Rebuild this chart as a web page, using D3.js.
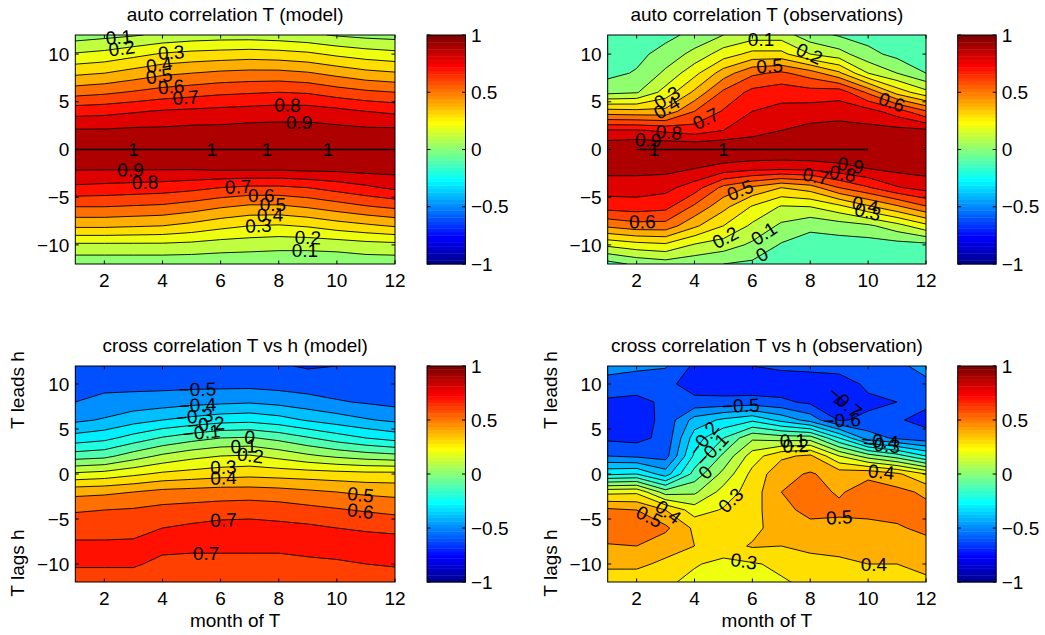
<!DOCTYPE html>
<html>
<head>
<meta charset="utf-8">
<script src="https://cdn.jsdelivr.net/npm/d3@7"></script>
<style>
  body { margin: 0; background: #fff; }
  svg { display: block; }
  text { font-family: "Liberation Sans", Arial, Helvetica, sans-serif; fill: #000; }
</style>
</head>
<body>
<script>
const months = [1, 2, 3, 4, 5, 6, 7, 8, 9, 10, 11, 12];
const lags = [12, 10, 8, 6, 4, 2, 0, -2, -4, -6, -8, -10, -12];
const levels = d3.range(-10, 11).map(i => i / 10);
const lagTicks = [-10, -5, 0, 5, 10];
const monthTicks = [2, 4, 6, 8, 10, 12];
const barTicks = [-1, -0.5, 0, 0.5, 1];

// one inner array per month (1..12), values at lags 12 ... -12
const autoModel = [
  [0.05, 0.21, 0.38, 0.56, 0.76, 0.91, 1, 0.91, 0.78, 0.60, 0.42, 0.18, 0.03],
  [0.07, 0.23, 0.40, 0.58, 0.77, 0.91, 1, 0.91, 0.77, 0.60, 0.42, 0.18, 0.03],
  [0.09, 0.27, 0.44, 0.61, 0.79, 0.92, 1, 0.91, 0.76, 0.59, 0.41, 0.18, 0.03],
  [0.12, 0.31, 0.48, 0.64, 0.81, 0.92, 1, 0.91, 0.75, 0.58, 0.40, 0.18, 0.03],
  [0.14, 0.33, 0.50, 0.66, 0.82, 0.93, 1, 0.91, 0.73, 0.55, 0.37, 0.17, 0.03],
  [0.15, 0.34, 0.52, 0.68, 0.83, 0.93, 1, 0.92, 0.70, 0.51, 0.33, 0.15, 0.03],
  [0.15, 0.35, 0.53, 0.69, 0.84, 0.94, 1, 0.92, 0.68, 0.48, 0.30, 0.14, 0.03],
  [0.14, 0.34, 0.53, 0.70, 0.85, 0.94, 1, 0.92, 0.68, 0.48, 0.29, 0.13, 0.03],
  [0.12, 0.32, 0.51, 0.69, 0.85, 0.94, 1, 0.93, 0.70, 0.51, 0.31, 0.13, 0.03],
  [0.09, 0.28, 0.47, 0.65, 0.83, 0.93, 1, 0.93, 0.74, 0.55, 0.35, 0.14, 0.03],
  [0.07, 0.25, 0.43, 0.62, 0.80, 0.92, 1, 0.94, 0.78, 0.59, 0.38, 0.16, 0.04],
  [0.06, 0.23, 0.41, 0.60, 0.78, 0.92, 1, 0.94, 0.82, 0.62, 0.41, 0.17, 0.04]
];
const autoObs = [
  [-0.06, -0.05, -0.03, 0.07, 0.44, 0.81, 0.98, 0.93, 0.85, 0.74, 0.52, 0.22, -0.04],
  [-0.05, -0.03, 0.01, 0.09, 0.43, 0.81, 1, 0.93, 0.85, 0.75, 0.56, 0.26, 0.02],
  [-0.03, 0.04, 0.12, 0.24, 0.43, 0.78, 1, 0.93, 0.83, 0.73, 0.56, 0.28, 0.05],
  [0.03, 0.13, 0.27, 0.42, 0.60, 0.75, 1, 0.90, 0.75, 0.58, 0.42, 0.19, 0.03],
  [0.10, 0.25, 0.45, 0.62, 0.71, 0.80, 1, 0.86, 0.57, 0.43, 0.30, 0.15, 0.00],
  [0.15, 0.33, 0.58, 0.73, 0.80, 0.85, 1, 0.83, 0.48, 0.29, 0.18, 0.08, -0.02],
  [0.15, 0.33, 0.62, 0.76, 0.83, 0.90, 1, 0.82, 0.40, 0.19, 0.08, -0.01, -0.05],
  [0.04, 0.20, 0.55, 0.74, 0.85, 0.93, 1, 0.83, 0.45, 0.20, 0.02, -0.04, -0.03],
  [-0.01, 0.14, 0.42, 0.76, 0.85, 0.95, 1, 0.86, 0.60, 0.27, 0.05, -0.05, -0.06],
  [-0.04, 0.03, 0.20, 0.58, 0.84, 0.93, 1, 0.90, 0.69, 0.38, 0.08, -0.05, -0.06],
  [-0.06, -0.03, 0.10, 0.36, 0.75, 0.93, 0.99, 0.93, 0.79, 0.48, 0.16, -0.04, -0.06],
  [-0.06, -0.05, 0.00, 0.23, 0.61, 0.92, 0.99, 0.94, 0.84, 0.59, 0.27, -0.03, -0.06]
];
const crossModel = [
  [-0.57, -0.54, -0.50, -0.42, -0.26, -0.05, 0.22, 0.47, 0.59, 0.66, 0.72, 0.71, 0.66],
  [-0.57, -0.53, -0.47, -0.39, -0.23, -0.03, 0.24, 0.48, 0.60, 0.66, 0.72, 0.71, 0.66],
  [-0.57, -0.53, -0.46, -0.34, -0.16, 0.05, 0.28, 0.50, 0.61, 0.67, 0.72, 0.71, 0.66],
  [-0.57, -0.53, -0.45, -0.30, -0.09, 0.12, 0.32, 0.53, 0.63, 0.70, 0.72, 0.68, 0.64],
  [-0.57, -0.53, -0.43, -0.27, -0.04, 0.17, 0.34, 0.54, 0.64, 0.72, 0.72, 0.67, 0.63],
  [-0.57, -0.53, -0.42, -0.24, 0.00, 0.20, 0.36, 0.55, 0.65, 0.74, 0.72, 0.67, 0.63],
  [-0.58, -0.53, -0.41, -0.23, 0.01, 0.21, 0.37, 0.55, 0.66, 0.74, 0.72, 0.67, 0.63],
  [-0.59, -0.54, -0.43, -0.26, -0.03, 0.17, 0.36, 0.54, 0.65, 0.73, 0.72, 0.67, 0.63],
  [-0.61, -0.55, -0.46, -0.31, -0.09, 0.12, 0.35, 0.52, 0.63, 0.72, 0.73, 0.68, 0.64],
  [-0.60, -0.56, -0.49, -0.35, -0.15, 0.08, 0.34, 0.50, 0.61, 0.70, 0.73, 0.69, 0.64],
  [-0.60, -0.57, -0.51, -0.39, -0.20, 0.05, 0.33, 0.48, 0.59, 0.69, 0.74, 0.70, 0.65],
  [-0.60, -0.58, -0.53, -0.42, -0.24, 0.03, 0.33, 0.47, 0.57, 0.68, 0.74, 0.71, 0.65]
];
const crossObs = [
  [-0.47, -0.53, -0.62, -0.65, -0.62, -0.50, -0.22, 0.27, 0.52, 0.57, 0.49, 0.42, 0.35],
  [-0.48, -0.55, -0.63, -0.65, -0.63, -0.52, -0.20, 0.28, 0.50, 0.57, 0.50, 0.42, 0.35],
  [-0.49, -0.57, -0.58, -0.57, -0.57, -0.54, -0.35, 0.05, 0.40, 0.52, 0.44, 0.38, 0.32],
  [-0.62, -0.65, -0.57, -0.36, -0.25, -0.18, -0.06, 0.08, 0.25, 0.38, 0.40, 0.31, 0.27],
  [-0.61, -0.66, -0.57, -0.28, -0.10, 0.02, 0.13, 0.24, 0.31, 0.33, 0.36, 0.27, 0.24],
  [-0.60, -0.67, -0.56, -0.22, 0.08, 0.25, 0.33, 0.35, 0.36, 0.37, 0.41, 0.29, 0.26],
  [-0.58, -0.66, -0.58, -0.33, 0.05, 0.38, 0.47, 0.50, 0.48, 0.45, 0.40, 0.32, 0.29],
  [-0.58, -0.64, -0.62, -0.44, 0.05, 0.42, 0.51, 0.53, 0.52, 0.48, 0.42, 0.37, 0.32],
  [-0.56, -0.65, -0.72, -0.61, -0.20, 0.20, 0.46, 0.49, 0.52, 0.47, 0.43, 0.38, 0.34],
  [-0.55, -0.58, -0.62, -0.58, -0.45, 0.05, 0.48, 0.54, 0.52, 0.48, 0.44, 0.40, 0.36],
  [-0.52, -0.58, -0.60, -0.59, -0.52, -0.05, 0.42, 0.53, 0.53, 0.49, 0.44, 0.40, 0.36],
  [-0.47, -0.52, -0.58, -0.63, -0.56, -0.20, 0.30, 0.48, 0.53, 0.52, 0.47, 0.43, 0.38]
];

// contour labels: [level, month, lag] (approximate spot, snapped to the line)
const autoModelLabels = [
  [0.1, 2.5, 11.6], [0.2, 2.6, 10.6], [0.3, 4.3, 10.0], [0.4, 3.9, 8.6], [0.5, 3.9, 7.4],
  [0.6, 4.3, 6.4], [0.7, 4.8, 5.4], [0.8, 8.3, 4.6], [0.9, 8.7, 2.8],
  [1, 3.0, 0], [1, 5.7, 0], [1, 7.6, 0], [1, 9.7, 0],
  [0.9, 2.9, -2.0], [0.8, 3.4, -3.2], [0.7, 6.6, -3.7], [0.6, 7.4, -4.8], [0.5, 7.8, -5.8],
  [0.4, 7.7, -6.9], [0.3, 7.3, -7.9], [0.2, 9.0, -9.2], [0.1, 8.9, -10.7]
];
const autoObsLabels = [
  [0.1, 6.3, 11.5], [0.2, 7.9, 9.6], [0.5, 6.6, 8.5], [0.6, 10.8, 4.8], [0.3, 3.1, 5.2],
  [0.4, 3.1, 4.1], [0.7, 4.6, 1.9], [0.8, 3.1, 1.3], [0.9, 2.4, 1.0], [1, 2.6, 0], [1, 5.0, 0],
  [0.5, 5.5, -3.7], [0.6, 2.2, -7.75], [0.2, 5.2, -10], [0.1, 6.5, -9.3], [0, 6.4, -11.4],
  [0.7, 8.2, -2.7], [0.8, 9.1, -2.9], [0.9, 9.4, -1.6], [0.4, 9.9, -5.8], [0.3, 10.0, -6.4]
];
const crossModelLabels = [
  [-0.5, 5.2, 9.2], [-0.4, 5.2, 7.7], [-0.3, 5.1, 6.4], [-0.2, 5.5, 5.3], [-0.1, 5.35, 4.2],
  [0, 7.0, 4.0], [0.1, 6.8, 2.7], [0.2, 7.0, 1.4], [0.3, 6.1, 0.3], [0.4, 6.1, -0.6],
  [0.5, 10.8, -2.8], [0.6, 10.8, -4.5], [0.7, 6.1, -5.0], [0.7, 5.5, -8.9]
];
const crossObsLabels = [
  [-0.5, 5.6, 7.3], [-0.7, 9.4, 8.3], [-0.6, 9.1, 5.9], [-0.2, 4.4, 3.7], [-0.1, 4.7, 2.4],
  [0, 4.5, -0.2], [0.1, 7.4, 3.7], [0.2, 7.5, 3.1], [-0.4, 10.4, 3.6], [-0.3, 10.45, 2.9],
  [0.4, 10.45, 0.15], [0.3, 5.4, -3.4], [0.5, 2.3, -5.6], [0.4, 2.95, -4.85], [0.5, 9.0, -4.5],
  [0.3, 5.7, -9.85], [0.4, 10.2, -10.2]
];

const titles = [
  "auto correlation T (model)",
  "auto correlation T (observations)",
  "cross correlation T vs h (model)",
  "cross correlation T vs h (observation)"
];

// MATLAB jet(64)
function jet(m) {
  const n = Math.ceil(m / 4);
  const u = [];
  for (let i = 1; i <= n; i++) u.push(i / n);
  for (let i = 1; i < n; i++) u.push(1);
  for (let i = n; i >= 1; i--) u.push(i / n);
  const off = Math.ceil(n / 2) - (m % 4 === 1 ? 1 : 0);
  const J = d3.range(m).map(() => [0, 0, 0]);
  u.forEach((v, k) => {
    const g = off + k + 1, r = g + n, b = g - n;
    if (g >= 1 && g <= m) J[g - 1][1] = v;
    if (r >= 1 && r <= m) J[r - 1][0] = v;
    if (b >= 1 && b <= m) J[b - 1][2] = v;
  });
  return J.map(c => d3.rgb(c[0] * 255, c[1] * 255, c[2] * 255).formatHex());
}
const cmap = jet(64);
const colorOf = v => cmap[Math.max(0, Math.min(63, Math.floor((v + 1) / 2 * 64)))];
const fmt = v => (v < 0 ? "\u2212" : "") + String(Math.abs(v));
const FS = 19;

const W = 1045, H = 635;
const svg = d3.select("body").append("svg").attr("width", W).attr("height", H);

const panels = [
  {grid: autoModel, labels: autoModelLabels, x: 75.3, y: 35, w: 319.7, h: 229, cb: 427},
  {grid: autoObs, labels: autoObsLabels, x: 607.7, y: 35, w: 318.3, h: 229, cb: 957.7},
  {grid: crossModel, labels: crossModelLabels, x: 75.3, y: 366, w: 319.7, h: 216, cb: 427, bottom: true},
  {grid: crossObs, labels: crossObsLabels, x: 607.7, y: 366, w: 318.3, h: 216, cb: 957.7, bottom: true}
];

panels.forEach((p, pi) => {
  const nx = months.length, ny = lags.length;
  const x = d3.scaleLinear().domain([1, 12]).range([p.x, p.x + p.w]);
  const y = d3.scaleLinear().domain([12, -12]).range([p.y, p.y + p.h]);
  const gx = d3.scaleLinear().domain([0.5, nx - 0.5]).range([months[0], months[nx - 1]]);
  const gy = d3.scaleLinear().domain([0.5, ny - 0.5]).range([lags[0], lags[ny - 1]]);
  const px = c => x(gx(c[0])), py = c => y(gy(c[1]));

  const values = [];
  for (let j = 0; j < ny; j++) for (let i = 0; i < nx; i++) values.push(p.grid[i][j]);
  const contours = d3.contours().size([nx, ny]).thresholds(levels)(values);

  const path = d3.geoPath(d3.geoTransform({
    point(a, b) { this.stream.point(x(gx(a)), y(gy(b))); }
  }));

  const g = svg.append("g");
  g.append("clipPath").attr("id", "clip" + pi)
    .append("rect").attr("x", p.x).attr("y", p.y).attr("width", p.w).attr("height", p.h);
  const body = g.append("g").attr("clip-path", `url(#clip${pi})`);

  body.selectAll("path.fill").data(contours).join("path")
    .attr("class", "fill")
    .attr("d", path)
    .attr("fill", d => colorOf(d.value))
    .attr("stroke", "none");
  body.selectAll("path.line").data(contours).join("path")
    .attr("class", "line")
    .attr("d", path)
    .attr("fill", "none")
    .attr("stroke", "#000")
    .attr("stroke-width", 0.9);

  // the level-1 contour is a bare line along lag 0 (zero area, so d3 drops it)
  const j0 = lags.indexOf(0);
  const runs = [];
  let run = [];
  months.forEach((m, i) => {
    if (p.grid[i][j0] >= 1) run.push(m);
    else { if (run.length > 1) runs.push(run); run = []; }
  });
  if (run.length > 1) runs.push(run);
  g.selectAll("path.unit").data(runs).join("path")
    .attr("class", "unit")
    .attr("d", r => d3.line()([[x(r[0]), y(0)], [x(r[r.length - 1]), y(0)]]))
    .attr("fill", "none")
    .attr("stroke", "#000")
    .attr("stroke-width", 1.5);

  // contour labels
  p.labels.forEach(([lev, m, lag]) => {
    const c = contours.find(d => Math.abs(d.value - lev) < 1e-9);
    const tx = x(m), ty = y(lag);
    let best = null;
    if (c && lev < 1) {
      c.coordinates.forEach(poly => poly.forEach(ring => {
        for (let k = 0; k < ring.length - 1; k++) {
          const ax = px(ring[k]), ay = py(ring[k]);
          const bx = px(ring[k + 1]), by = py(ring[k + 1]);
          const dx = bx - ax, dy = by - ay, L2 = dx * dx + dy * dy;
          if (L2 < 1e-6) continue;
          let t = ((tx - ax) * dx + (ty - ay) * dy) / L2;
          t = Math.max(0, Math.min(1, t));
          const qx = ax + t * dx, qy = ay + t * dy;
          if (qx < p.x || qx > p.x + p.w || qy < p.y || qy > p.y + p.h) continue;
          const dist = Math.hypot(qx - tx, qy - ty);
          if (!best || dist < best.dist) best = {dist, qx, qy, ang: Math.atan2(dy, dx) * 180 / Math.PI};
        }
      }));
    }
    let lx = tx, ly = ty, ang = 0;
    if (best && best.dist < 30) {
      lx = best.qx; ly = best.qy; ang = best.ang;
      if (ang > 90) ang -= 180;
      if (ang < -90) ang += 180;
    }
    g.append("text")
      .attr("transform", `translate(${lx},${ly}) rotate(${ang})`)
      .attr("text-anchor", "middle")
      .attr("dy", "0.35em")
      .attr("font-size", FS)
      .text(fmt(lev));
  });

  // axes box and inward ticks
  g.append("rect").attr("x", p.x).attr("y", p.y).attr("width", p.w).attr("height", p.h)
    .attr("fill", "none").attr("stroke", "#000").attr("stroke-width", 1);
  const tl = 3.5;
  monthTicks.forEach(v => {
    g.append("line").attr("x1", x(v)).attr("x2", x(v)).attr("y1", p.y + p.h).attr("y2", p.y + p.h - tl).attr("stroke", "#000");
    g.append("line").attr("x1", x(v)).attr("x2", x(v)).attr("y1", p.y).attr("y2", p.y + tl).attr("stroke", "#000");
    g.append("text").attr("x", x(v)).attr("y", p.y + p.h + 23).attr("text-anchor", "middle")
      .attr("font-size", FS).text(v);
  });
  lagTicks.forEach(v => {
    g.append("line").attr("x1", p.x).attr("x2", p.x + tl).attr("y1", y(v)).attr("y2", y(v)).attr("stroke", "#000");
    g.append("line").attr("x1", p.x + p.w).attr("x2", p.x + p.w - tl).attr("y1", y(v)).attr("y2", y(v)).attr("stroke", "#000");
    g.append("text").attr("x", p.x - 6).attr("y", y(v)).attr("dy", "0.35em").attr("text-anchor", "end")
      .attr("font-size", FS).text(fmt(v));
  });

  g.append("text").attr("x", p.x + p.w / 2).attr("y", p.y - 14).attr("text-anchor", "middle")
    .attr("font-size", FS).text(titles[pi]);

  if (p.bottom) {
    g.append("text").attr("x", p.x + p.w / 2).attr("y", p.y + p.h + 45).attr("text-anchor", "middle")
      .attr("font-size", FS).text("month of T");
    g.append("text").attr("transform", `translate(${p.x - 51},${p.y + 24}) rotate(-90)`)
      .attr("text-anchor", "middle").attr("font-size", FS).text("T leads h");
    g.append("text").attr("transform", `translate(${p.x - 51},${p.y + 197}) rotate(-90)`)
      .attr("text-anchor", "middle").attr("font-size", FS).text("T lags h");
  }

  // colorbar
  const cw = 38.5;
  const cy = d3.scaleLinear().domain([-1, 1]).range([p.y + p.h, p.y]);
  const step = 2 / cmap.length;
  g.selectAll("rect.cb").data(cmap).join("rect")
    .attr("class", "cb")
    .attr("x", p.cb).attr("width", cw)
    .attr("y", (d, i) => cy(-1 + (i + 1) * step))
    .attr("height", (d, i) => cy(-1 + i * step) - cy(-1 + (i + 1) * step) + 0.4)
    .attr("fill", d => d);
  g.append("rect").attr("x", p.cb).attr("y", p.y).attr("width", cw).attr("height", p.h)
    .attr("fill", "none").attr("stroke", "#000").attr("stroke-width", 1);
  barTicks.forEach(v => {
    g.append("line").attr("x1", p.cb).attr("x2", p.cb + tl).attr("y1", cy(v)).attr("y2", cy(v)).attr("stroke", "#000");
    g.append("line").attr("x1", p.cb + cw).attr("x2", p.cb + cw - tl).attr("y1", cy(v)).attr("y2", cy(v)).attr("stroke", "#000");
    g.append("text").attr("x", p.cb + cw + 5.5).attr("y", cy(v)).attr("dy", "0.35em")
      .attr("font-size", FS).text(fmt(v));
  });
});
</script>
</body>
</html>
